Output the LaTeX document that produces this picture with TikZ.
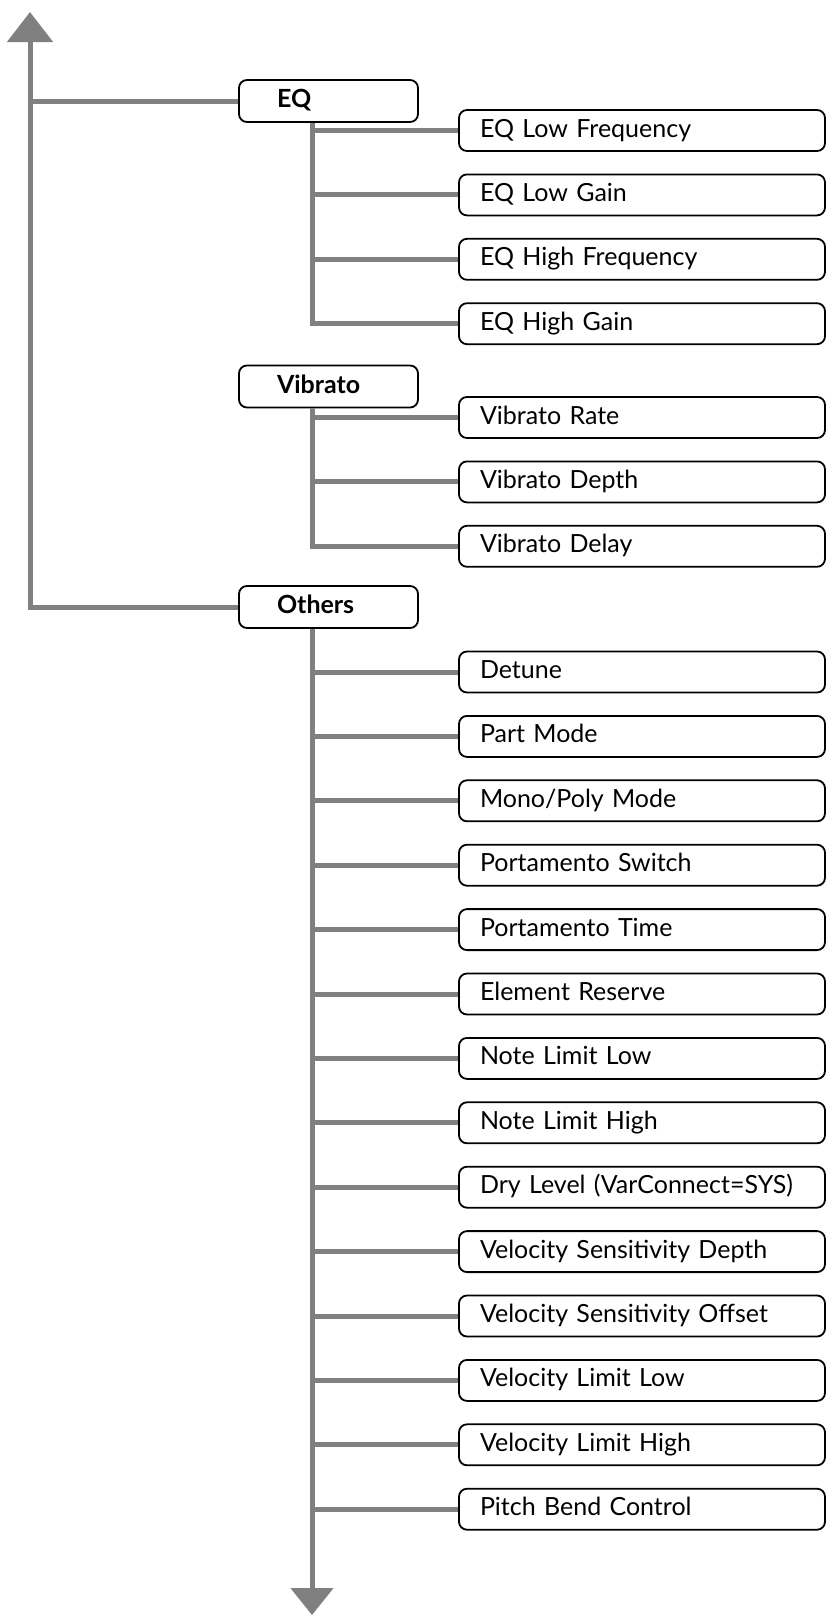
\documentclass[tikz,border=0pt]{standalone}
\usepackage{fontspec}
\setmainfont{Lato}
\usetikzlibrary{arrows.meta}
\definecolor{stemgray}{RGB}{128,128,128}

\tikzset{
  stem/.style={draw=stemgray, line width=5pt},
  group/.style={draw, line width=1.8pt, rounded corners=8pt, fill=white,
    text width=103pt, inner xsep=38pt, inner ysep=0pt, minimum height=42pt,
    align=left, text height=18pt, text depth=5pt,
    font=\fontsize{25}{28}\selectfont\bfseries},
  param/.style={draw, line width=1.8pt, rounded corners=8pt, fill=white,
    text width=324pt, inner xsep=21pt, inner ysep=0pt, minimum height=41pt,
    align=left, text height=18pt, text depth=5pt,
    font=\fontsize{25}{28}\selectfont}
}

\begin{document}
\begin{tikzpicture}[x=1pt,y=-1pt]
\useasboundingbox (0,0) rectangle (826,1615);
\coordinate (top) at (30,12);
\coordinate (bottom) at (312,1615);
\coordinate (sx) at (312,0);

% groups
\node[group] (eq) at (328.5,101) {EQ};
\node[group] (vib) at (328.5,386.5) {Vibrato};
\node[group] (oth) at (328.5,607) {Others};

% parameters
\foreach \t [count=\i] in {EQ Low Frequency, EQ Low Gain, EQ High Frequency, EQ High Gain}
  \node[param] (eq\i) at (642,{130.5+64.4*(\i-1)}) {\t};
\foreach \t [count=\i] in {Vibrato Rate, Vibrato Depth, Vibrato Delay}
  \node[param] (vib\i) at (642,{417.5+64.4*(\i-1)}) {\t};
\foreach \t [count=\i] in {Detune, Part Mode, Mono/Poly Mode, Portamento Switch,
    Portamento Time, Element Reserve, Note Limit Low, Note Limit High,
    Dry Level (VarConnect=SYS), Velocity Sensitivity Depth,
    Velocity Sensitivity Offset, Velocity Limit Low, Velocity Limit High,
    Pitch Bend Control}
  \node[param] (oth\i) at (642,{672+64.4*(\i-1)}) {\t};

% lines
\draw[stem, {Triangle[length=30pt,width=45pt]}-] (top) |- (oth.west);
\draw[stem] (eq.west) -- (eq.west -| top);
\foreach \i in {1,...,4} \draw[stem] (eq.south -| sx) |- (eq\i.west);
\foreach \i in {1,...,3} \draw[stem] (vib.south -| sx) |- (vib\i.west);
\draw[stem, -{Triangle[length=27pt,width=42pt]}] (oth.south -| sx) -- (bottom);
\foreach \i in {1,...,14} \draw[stem] (oth\i.west) -- (oth\i.west -| sx);
\end{tikzpicture}
\end{document}
